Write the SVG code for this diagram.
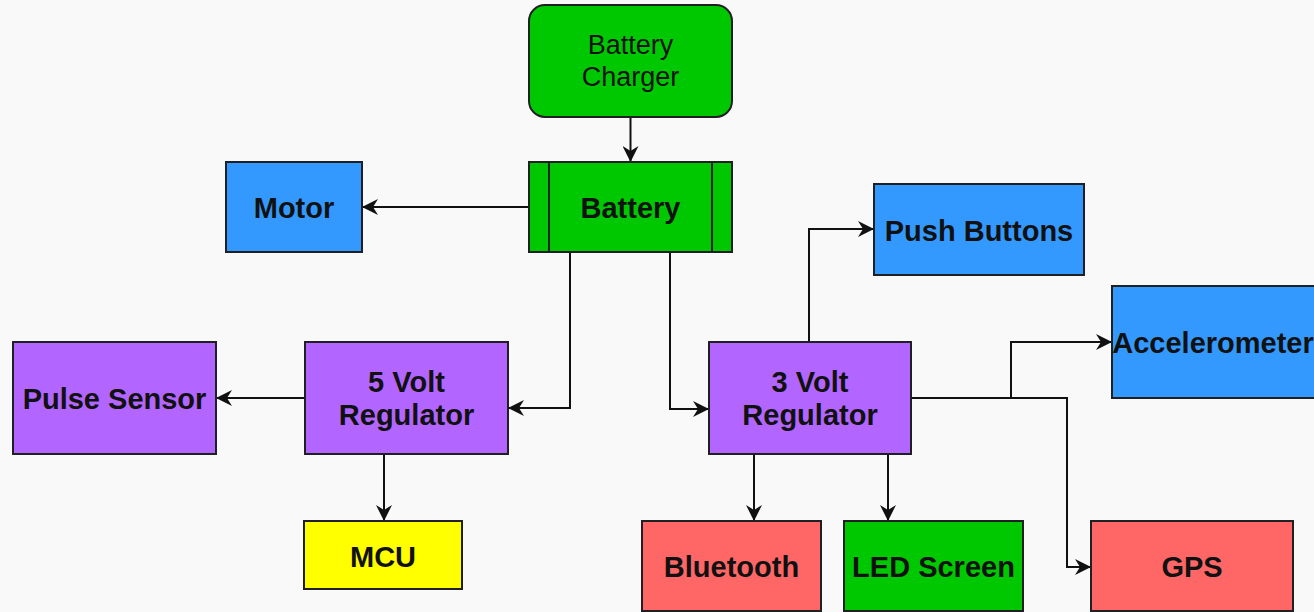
<svg xmlns="http://www.w3.org/2000/svg" width="1314" height="612" viewBox="0 0 1314 612">
<style>
  .box { stroke: #1f1f24; stroke-width: 2; }
  .green { fill: #00C800; }
  .blue { fill: #3399FF; }
  .purple { fill: #B266FF; }
  .red { fill: #FF6666; }
  .yellow { fill: #FFFF00; }
  .lbl { font-family: "Liberation Sans", Arial, sans-serif; font-size: 29px; font-weight: bold; fill: #111; text-anchor: middle; }
  .lbl2 { font-family: "Liberation Sans", Arial, sans-serif; font-size: 27px; fill: #111; text-anchor: middle; }
  .conn { fill: none; stroke: #111; stroke-width: 2; marker-end: url(#arrow); }
</style>
<defs>
  <marker id="arrow" markerUnits="userSpaceOnUse" markerWidth="17" markerHeight="16" viewBox="0 0 17 16" refX="16" refY="8" orient="auto">
    <path d="M0,0 L16,8 L0,16 L5,8 Z" fill="#111"/>
  </marker>
</defs>
<rect width="1314" height="612" fill="#F9F9F9"/>

<g id="connectors">
  <path class="conn" d="M630.5,117 L630.5,162"/>
  <path class="conn" d="M529,207 L362,207"/>
  <path class="conn" d="M570,252 L570,408 L508,408"/>
  <path class="conn" d="M670,252 L670,409 L709,409"/>
  <path class="conn" d="M305,398 L216,398"/>
  <path class="conn" d="M384,454 L384,521"/>
  <path class="conn" d="M809,342 L809,229 L874,229"/>
  <path class="conn" d="M911,398 L1011,398 L1011,342 L1112,342"/>
  <path class="conn" d="M1011,398 L1067,398 L1067,567 L1091,567"/>
  <path class="conn" d="M754,454 L754,521"/>
  <path class="conn" d="M888,454 L888,521"/>
</g>

<g id="battery-charger">
  <rect class="box green" x="529" y="5" width="203" height="112" rx="16" ry="16"/>
  <text class="lbl2" x="630.5" y="54">Battery</text>
  <text class="lbl2" x="630.5" y="86">Charger</text>
</g>

<g id="battery">
  <rect class="box green" x="529" y="162" width="203" height="90"/>
  <line class="box" x1="549" y1="162" x2="549" y2="252"/>
  <line class="box" x1="712" y1="162" x2="712" y2="252"/>
  <text class="lbl" x="630.5" y="218">Battery</text>
</g>

<g id="motor">
  <rect class="box blue" x="226" y="162" width="136" height="90"/>
  <text class="lbl" x="294" y="218">Motor</text>
</g>

<g id="push-buttons">
  <rect class="box blue" x="874" y="184" width="210" height="91"/>
  <text class="lbl" x="979" y="241">Push Buttons</text>
</g>

<g id="accelerometer">
  <rect class="box blue" x="1112" y="286" width="203" height="112"/>
  <text class="lbl" x="1213" y="353">Accelerometer</text>
</g>

<g id="pulse-sensor">
  <rect class="box purple" x="13" y="342" width="203" height="112"/>
  <text class="lbl" x="114.5" y="409">Pulse Sensor</text>
</g>

<g id="regulator-5v">
  <rect class="box purple" x="305" y="342" width="203" height="112"/>
  <text class="lbl" x="406.5" y="392">5 Volt</text>
  <text class="lbl" x="406.5" y="425">Regulator</text>
</g>

<g id="regulator-3v">
  <rect class="box purple" x="709" y="342" width="202" height="112"/>
  <text class="lbl" x="810" y="392">3 Volt</text>
  <text class="lbl" x="810" y="425">Regulator</text>
</g>

<g id="mcu">
  <rect class="box yellow" x="304" y="521" width="158" height="68"/>
  <text class="lbl" x="383" y="567">MCU</text>
</g>

<g id="bluetooth">
  <rect class="box red" x="642" y="521" width="179" height="90"/>
  <text class="lbl" x="731.5" y="577">Bluetooth</text>
</g>

<g id="led-screen">
  <rect class="box green" x="844" y="521" width="179" height="90"/>
  <text class="lbl" x="933.5" y="577">LED Screen</text>
</g>

<g id="gps">
  <rect class="box red" x="1091" y="521" width="202" height="90"/>
  <text class="lbl" x="1192" y="577">GPS</text>
</g>
</svg>
